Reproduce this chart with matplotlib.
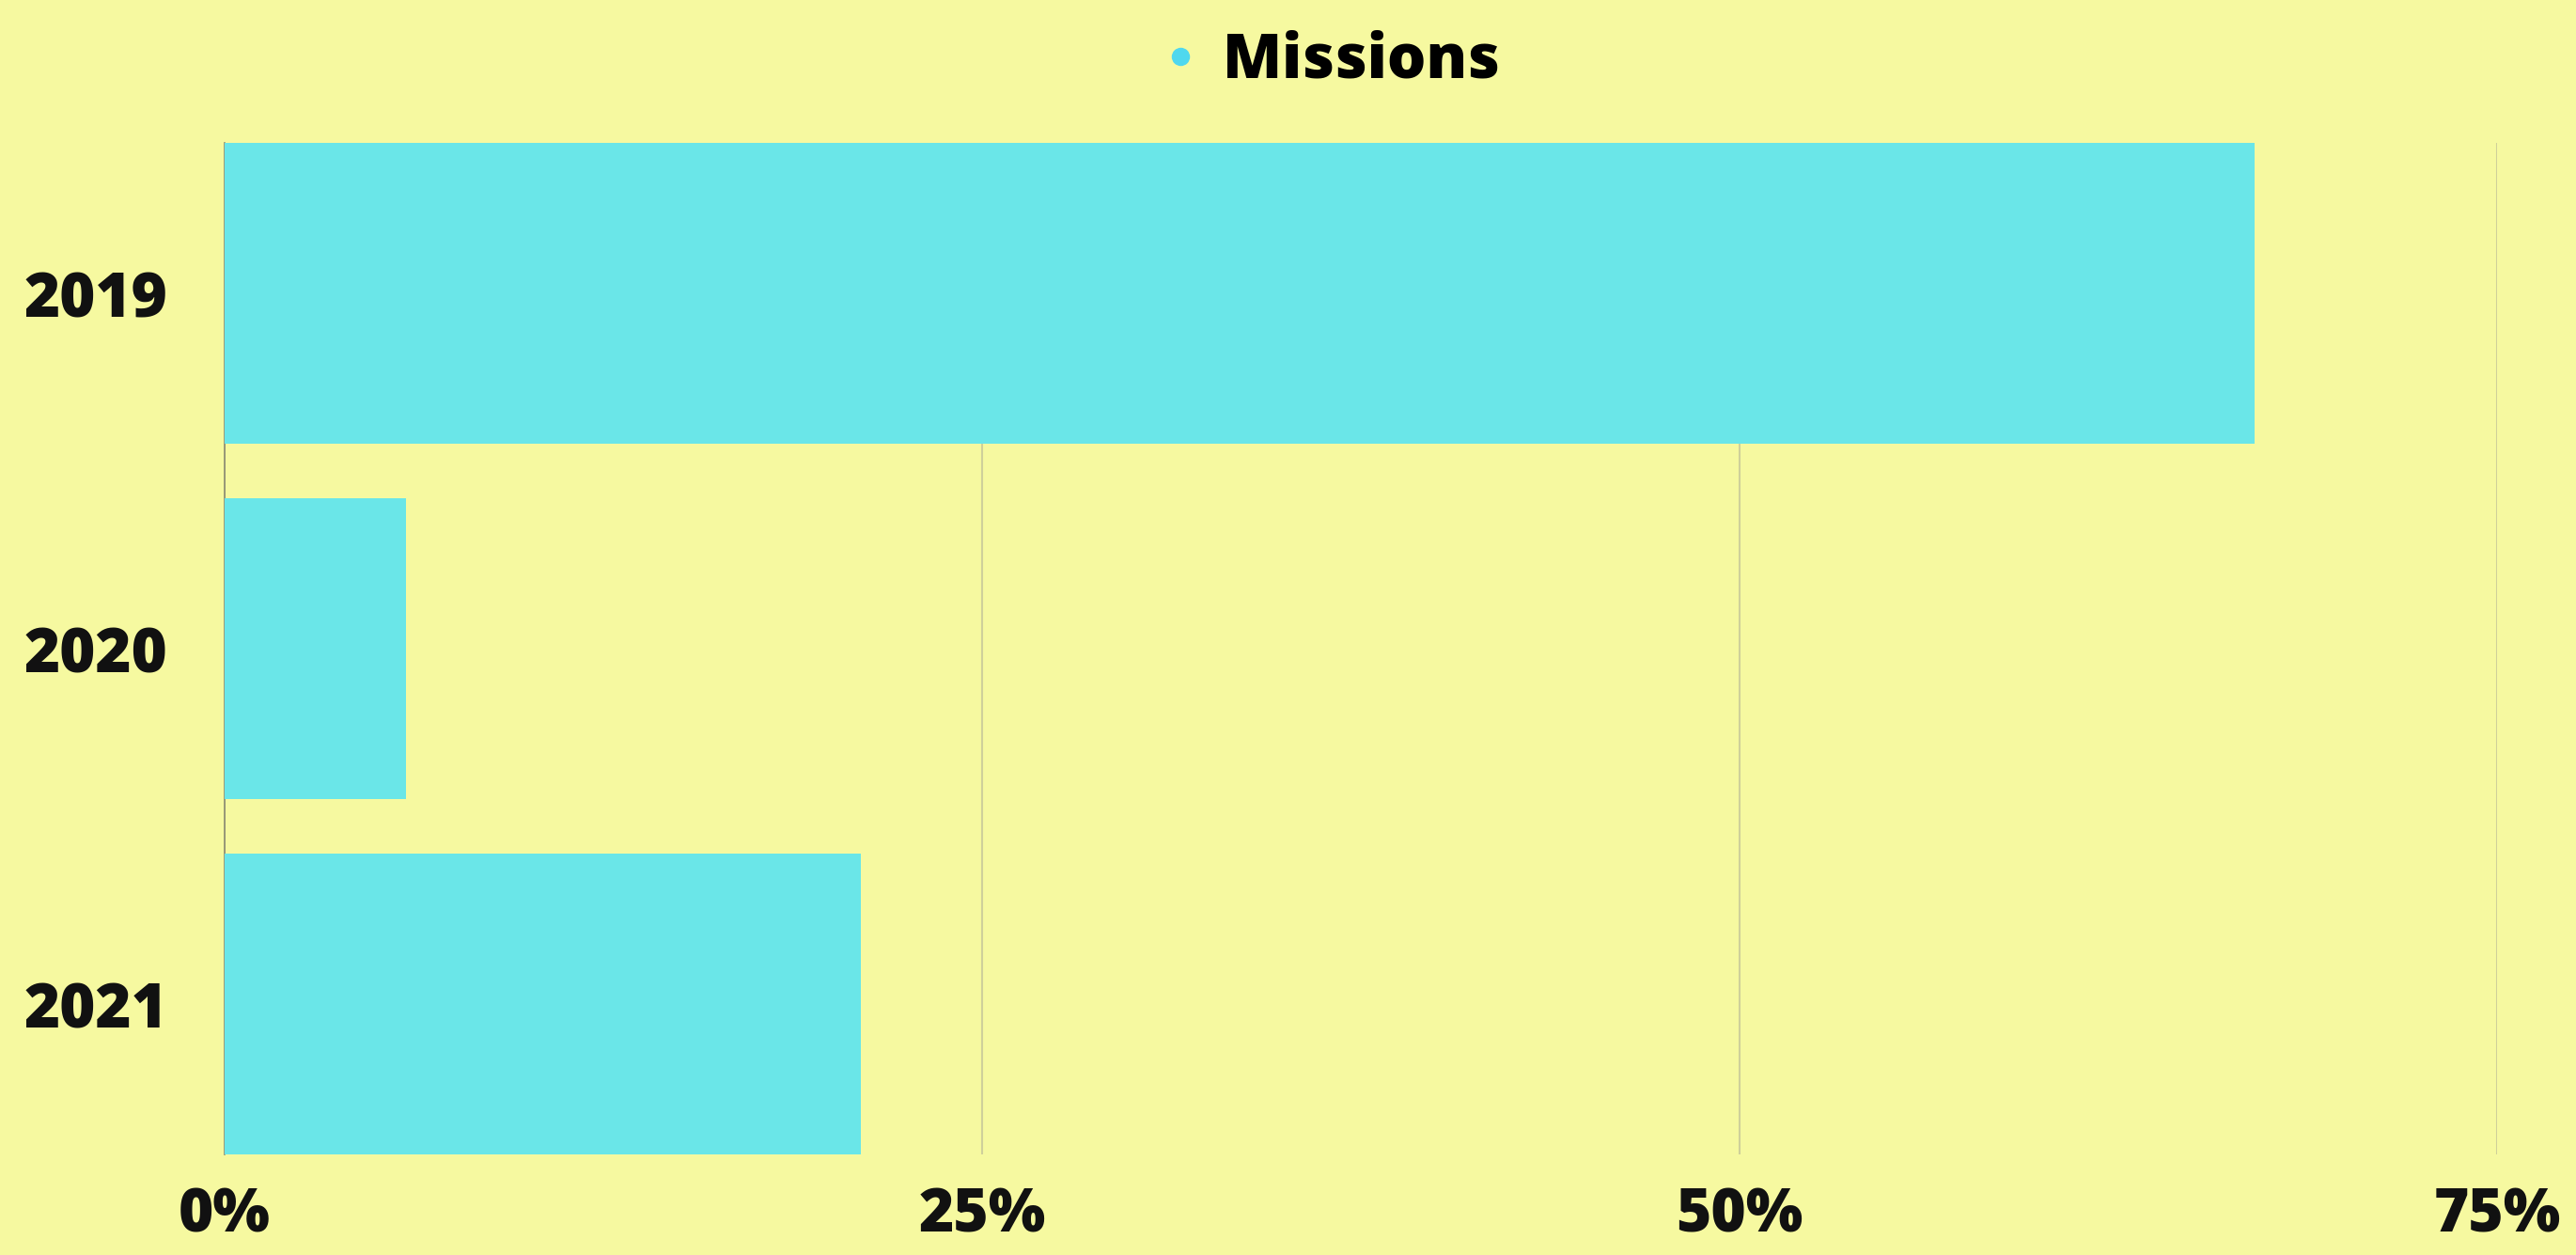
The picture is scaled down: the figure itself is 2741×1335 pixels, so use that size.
import matplotlib
matplotlib.use('Agg')
import matplotlib.pyplot as plt
from matplotlib.lines import Line2D

# data
years = ['2019', '2020', '2021']
missions = [67, 6, 21]
x_ticks = [0, 25, 50, 75]
x_labels = ['0%', '25%', '50%', '75%']

bg = '#f6f9a0'
bar_color = '#6ae6e8'

plt.rcParams['font.family'] = ['Open Sans', 'DejaVu Sans']

fig = plt.figure(figsize=(27.41, 13.35), dpi=100, facecolor=bg)
ax = fig.add_axes([0.0872, 0.0801, 0.8822, 0.806])
ax.set_facecolor(bg)

ypos = list(range(len(years)))
ax.barh(ypos, missions, height=0.8466, color=bar_color, zorder=3)

ax.set_xlim(0, 75)
ax.set_ylim(2.4233, -0.4233)
ax.set_yticks(ypos)
ax.set_yticklabels(years, fontsize=47, fontweight=800)
ax.set_xticks(x_ticks)
ax.set_xticklabels(x_labels, fontsize=46, fontweight=800)
ax.tick_params(axis='both', length=0, colors='#111111')
ax.tick_params(axis='y', pad=44)
ax.tick_params(axis='x', pad=24)

ax.grid(axis='x', color='#cfd09a', linewidth=1.5, zorder=0)
for s in ['top', 'right', 'bottom']:
    ax.spines[s].set_visible(False)
ax.spines['left'].set_color('#8a8a70')
ax.spines['left'].set_linewidth(1.2)

handle = Line2D([], [], linestyle='none', marker='o', markersize=14,
                markerfacecolor='#4fd8ee', markeredgecolor='none')
fig.legend([handle], ['Missions'], loc='center', bbox_to_anchor=(0.5166, 0.9506),
           frameon=False, handlelength=0.6, handletextpad=0.4,
           prop={'size': 47, 'weight': 800})

fig.savefig('out.png', dpi=100, facecolor=bg)
